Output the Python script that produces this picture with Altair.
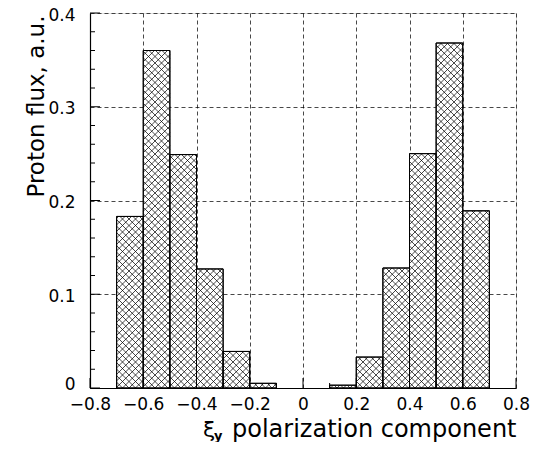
import altair as alt
import pandas as pd
import numpy as np

# ---- data ----
bin_left = [-0.7, -0.6, -0.5, -0.4, -0.3, -0.2, -0.1, 0.0, 0.1, 0.2, 0.3, 0.4, 0.5, 0.6]
bin_width = 0.1
flux = [0.183, 0.360, 0.249, 0.127, 0.039, 0.005, 0.0, 0.0, 0.003, 0.033, 0.128, 0.250, 0.368, 0.189]

x_major = [-0.8, -0.6, -0.4, -0.2, 0.0, 0.2, 0.4, 0.6, 0.8]
x_minor = [-0.7, -0.5, -0.3, -0.1, 0.1, 0.3, 0.5, 0.7]
y_major = [0.0, 0.1, 0.2, 0.3, 0.4]
y_minor = [0.02, 0.04, 0.06, 0.08, 0.12, 0.14, 0.16, 0.18, 0.22, 0.24, 0.26, 0.28,
           0.32, 0.34, 0.36, 0.38]

X_DOMAIN = [-0.8, 0.8]
Y_DOMAIN = [0.0, 0.4]
W, H = 426, 375
FONT = "DejaVu Sans"

bars = pd.DataFrame({
    "x0": bin_left,
    "x1": [b + bin_width for b in bin_left],
    "flux": flux,
})
bars = bars[bars["flux"] > 0]

# ---- cross-hatch lines derived from the bars (45 deg in pixel space) ----
sx = W / (X_DOMAIN[1] - X_DOMAIN[0])
sy = H / (Y_DOMAIN[1] - Y_DOMAIN[0])
period = 6.5
segs = []
for _, r in bars.iterrows():
    u0 = (r.x0 - X_DOMAIN[0]) * sx
    u1 = (r.x1 - X_DOMAIN[0]) * sx
    v0, v1 = 0.0, r.flux * sy
    # lines v = u - c
    kmin = int(np.floor((u0 - v1) / period)) - 1
    kmax = int(np.ceil((u1 - v0) / period)) + 1
    for k in range(kmin, kmax + 1):
        c = k * period
        a = max(u0, v0 + c)
        b = min(u1, v1 + c)
        if b - a > 0.05:
            segs.append((a, a - c, b, b - c))
    # lines v = -u + c
    kmin = int(np.floor((u0 + v0) / period)) - 1
    kmax = int(np.ceil((u1 + v1) / period)) + 1
    for k in range(kmin, kmax + 1):
        c = k * period
        a = max(u0, c - v1)
        b = min(u1, c - v0)
        if b - a > 0.05:
            segs.append((a, c - a, b, c - b))
hatch = pd.DataFrame(segs, columns=["u0", "v0", "u1", "v1"])
hatch["hx0"] = hatch["u0"] / sx + X_DOMAIN[0]
hatch["hx1"] = hatch["u1"] / sx + X_DOMAIN[0]
hatch["hy0"] = hatch["v0"] / sy
hatch["hy1"] = hatch["v1"] / sy

label_expr = "datum.value == 0 ? '0' : format(datum.value, '.1f')"

xs = alt.Scale(domain=X_DOMAIN, nice=False, zero=False)
ys = alt.Scale(domain=Y_DOMAIN, nice=False)

base = alt.Chart(bars)

rect = base.mark_rect(fill="white", stroke="black", strokeWidth=1).encode(
    x=alt.X("x0:Q", scale=xs, axis=alt.Axis(
        values=x_major, labelExpr=label_expr, title=None, grid=True,
        gridDash=[4, 3], gridColor="black", gridWidth=0.8, gridOpacity=0.9,
        ticks=False, domainColor="black", domainWidth=1.2,
        labelOverlap=False, labelFlush=False,
        labelFont=FONT, labelFontSize=17, labelColor="black", labelPadding=8)),
    x2="x1:Q",
    y=alt.Y("flux:Q", scale=ys, axis=alt.Axis(
        values=y_major, labelExpr=label_expr, title="Proton flux, a.u.", grid=True,
        gridDash=[4, 3], gridColor="black", gridWidth=0.8, gridOpacity=0.9,
        ticks=False, domainColor="black", domainWidth=1.2,
        labelOverlap=False, labelFlush=False,
        labelOffset={"condition": {"test": "datum.value == 0", "value": -4}, "value": 2},
        labelFont=FONT, labelFontSize=17, labelColor="black", labelPadding=15,
        titleFont=FONT, titleFontSize=23, titleFontWeight="normal", titleColor="black",
        titleAngle=-90, titleAlign="right", titleBaseline="alphabetic",
        titleX=-47, titleY=2)),
    y2=alt.datum(0),
)

hatch_layer = alt.Chart(hatch).mark_rule(color="black", strokeWidth=0.8, opacity=0.9).encode(
    x=alt.X("hx0:Q", scale=xs), x2="hx1:Q",
    y=alt.Y("hy0:Q", scale=ys), y2="hy1:Q",
)

outline = base.mark_rect(fill=None, stroke="black", strokeWidth=1).encode(
    x=alt.X("x0:Q", scale=xs), x2="x1:Q",
    y=alt.Y("flux:Q", scale=ys), y2=alt.datum(0),
)

xmaj = alt.Chart(pd.DataFrame({"v": x_major})).mark_rule(color="black", strokeWidth=1).encode(
    x=alt.X("v:Q", scale=xs), y=alt.value(H), y2=alt.value(H - 10))
xmin = alt.Chart(pd.DataFrame({"v": x_minor})).mark_rule(color="black", strokeWidth=1).encode(
    x=alt.X("v:Q", scale=xs), y=alt.value(H), y2=alt.value(H - 5))
ymaj = alt.Chart(pd.DataFrame({"v": y_major})).mark_rule(color="black", strokeWidth=1).encode(
    y=alt.Y("v:Q", scale=ys), x=alt.value(0), x2=alt.value(10))
ymin = alt.Chart(pd.DataFrame({"v": y_minor})).mark_rule(color="black", strokeWidth=1).encode(
    y=alt.Y("v:Q", scale=ys), x=alt.value(0), x2=alt.value(5))

TITLE_BASE = H + 49
xt1 = alt.Chart(pd.DataFrame({"t": ["ξ"]})).mark_text(
    font=FONT, fontSize=22, align="left", baseline="alphabetic", color="black").encode(
    text="t:N", x=alt.value(113), y=alt.value(TITLE_BASE))
xt2 = alt.Chart(pd.DataFrame({"t": ["y"]})).mark_text(
    font=FONT, fontSize=13, fontWeight="bold", align="left", baseline="alphabetic", color="black").encode(
    text="t:N", x=alt.value(124), y=alt.value(TITLE_BASE + 3))
xt3 = alt.Chart(pd.DataFrame({"t": ["polarization component"]})).mark_text(
    font=FONT, fontSize=24, align="left", baseline="alphabetic", color="black").encode(
    text="t:N", x=alt.value(142), y=alt.value(TITLE_BASE))

chart = alt.layer(rect, hatch_layer, outline, xmaj, xmin, ymaj, ymin, xt1, xt2, xt3).properties(
    width=W, height=H,
    autosize=alt.AutoSizeParams(type="none"),
    padding={"left": 82, "top": 5, "right": 15, "bottom": 54},
).configure_view(stroke="black", strokeWidth=1.2).configure(background="white")

chart.save("out.html", embed_options={"renderer": "svg", "actions": False})
